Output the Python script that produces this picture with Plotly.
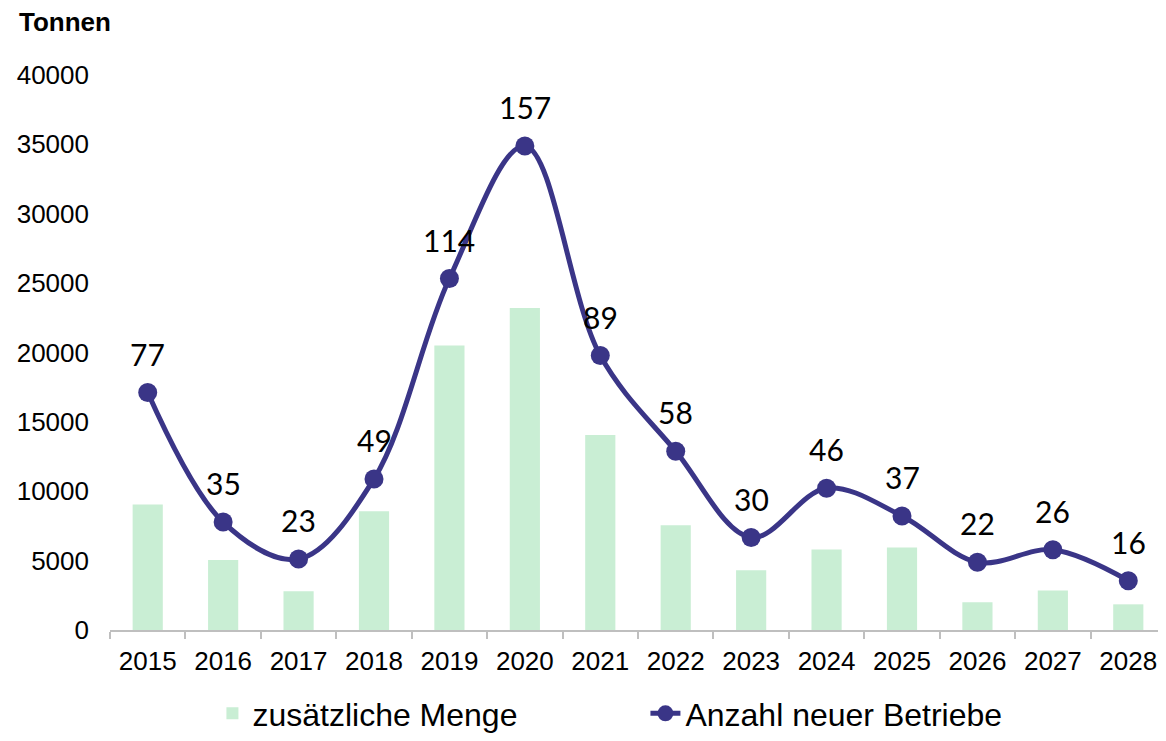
import plotly.graph_objects as go

years = ["2015", "2016", "2017", "2018", "2019", "2020", "2021",
         "2022", "2023", "2024", "2025", "2026", "2027", "2028"]
menge = [9050, 5050, 2800, 8550, 20500, 23200, 14050,
         7550, 4300, 5800, 5950, 2000, 2850, 1850]
betriebe = [77, 35, 23, 49, 114, 157, 89, 58, 30, 46, 37, 22, 26, 16]

y_ticks = [0, 5000, 10000, 15000, 20000, 25000, 30000, 35000, 40000]

BAR_COLOR = "#C9EED4"
LINE_COLOR = "#3A3587"
AX_FONT = "Arial, Liberation Sans, sans-serif"

fig = go.Figure()

fig.add_trace(go.Bar(
    x=years, y=menge, name="zusätzliche Menge",
    marker=dict(color=BAR_COLOR, line=dict(width=0)),
    yaxis="y",
))

fig.add_trace(go.Scatter(
    x=years, y=betriebe, name="Anzahl neuer Betriebe",
    mode="lines+markers",
    line=dict(color=LINE_COLOR, width=5, shape="spline", smoothing=1),
    marker=dict(color=LINE_COLOR, size=19),
    yaxis="y2",
))

# category axis: annotations addressed by category index
for i, v in enumerate(betriebe):
    fig.add_annotation(
        x=i, y=v, xref="x", yref="y2", text=str(v),
        showarrow=False, yshift=39, xanchor="center", yanchor="middle",
        font=dict(family="Lato, sans-serif", size=30, color="black"),
    )

fig.add_annotation(
    x=-0.088, y=1.0955, xref="paper", yref="paper", text="<b>Tonnen</b>",
    showarrow=False, xanchor="left", yanchor="middle",
    font=dict(family=AX_FONT, size=26, color="black"),
)

fig.update_layout(
    width=1158, height=733,
    margin=dict(l=102, r=0, t=67, b=111),
    paper_bgcolor="white", plot_bgcolor="white",
    bargap=0.6,
    showlegend=True,
    legend=dict(
        orientation="h", x=0.097, xanchor="left", y=-0.2, yanchor="bottom",
        font=dict(family=AX_FONT, size=32, color="black"),
        entrywidth=388, entrywidthmode="pixels",
        bgcolor="rgba(0,0,0,0)",
    ),
    xaxis=dict(
        type="category", range=[-0.5, 13.5],
        showgrid=False, showline=True, linecolor="#BFBFBF", linewidth=2,
        ticks="outside", ticklen=7, tickcolor="#BFBFBF", tickwidth=2,
        tickson="boundaries", ticklabelstandoff=7,
        tickfont=dict(family=AX_FONT, size=26, color="black"),
    ),
    yaxis=dict(
        range=[0, 40000], tickvals=y_ticks, ticktext=[str(t) for t in y_ticks],
        showgrid=False, zeroline=False, showline=False, ticks="",
        ticklabelstandoff=20,
        tickfont=dict(family=AX_FONT, size=26, color="black"),
    ),
    yaxis2=dict(
        range=[0, 180], overlaying="y", side="right", visible=True,
        showticklabels=False, ticks="", showline=False,
        showgrid=False, zeroline=False,
    ),
)

fig.write_html("out.html")
